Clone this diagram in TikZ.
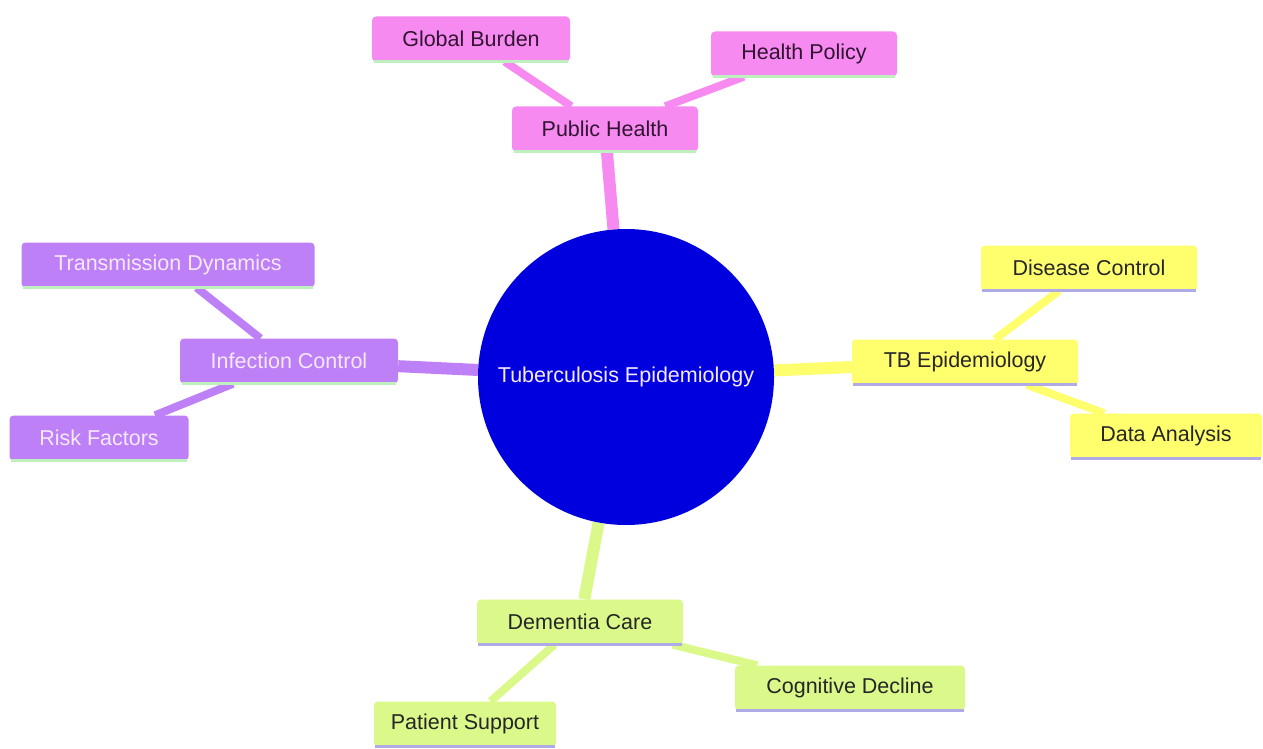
\documentclass[tikz,border=0pt]{standalone}
\usepackage{fontspec}
\setmainfont{Liberation Sans}
\usetikzlibrary{backgrounds}
\definecolor{pinkN}{RGB}{246,138,240}
\definecolor{purpN}{RGB}{190,128,246}
\definecolor{yellN}{RGB}{255,255,110}
\definecolor{greenN}{RGB}{218,249,138}
\definecolor{blueC}{RGB}{0,0,222}
\definecolor{lineG}{RGB}{190,240,190}
\definecolor{lineL}{RGB}{176,170,230}
\definecolor{pinkT}{RGB}{50,20,50}
\definecolor{purpT}{RGB}{245,232,255}
\tikzset{
  x=1pt, y=-1pt,
  mm/.style={rectangle, rounded corners=4pt, minimum height=45pt, inner sep=0pt, font=\fontsize{21.5}{24}\selectfont},
  pinkbox/.style={mm, fill=pinkN, text=pinkT},
  purpbox/.style={mm, fill=purpN, text=purpT},
  yellbox/.style={mm, fill=yellN, text=black!85},
  greenbox/.style={mm, fill=greenN, text=black!85},
  thickedge/.style={line width=12pt},
  thinedge/.style={line width=8pt},
  stripe/.style={line width=3pt}
}
\begin{document}
\begin{tikzpicture}
\useasboundingbox (0,0) rectangle (1263,749);
% center
\node[circle, fill=blueC, minimum size=296pt, inner sep=0pt, text=purpT, font=\fontsize{21.5}{24}\selectfont] (c) at (626,377) {Tuberculosis Epidemiology};
% pink
\node[pinkbox, minimum width=186pt] (ph) at (605,129) {Public Health};
\node[pinkbox, minimum width=198pt] (gb) at (471,39) {Global Burden};
\node[pinkbox, minimum width=186pt] (hp) at (804,54) {Health Policy};
% purple
\node[purpbox, minimum width=218pt] (ic) at (289,361) {Infection Control};
\node[purpbox, minimum width=293pt] (td) at (168,265) {Transmission Dynamics};
\node[purpbox, minimum width=179pt] (rf) at (99,438) {Risk Factors};
% yellow
\node[yellbox, minimum width=226pt] (tb) at (965,362) {TB Epidemiology};
\node[yellbox, minimum width=216pt] (dc) at (1089,268) {Disease Control};
\node[yellbox, minimum width=192pt] (da) at (1166,436) {Data Analysis};
% green
\node[greenbox, minimum width=206pt] (dm) at (580,622) {Dementia Care};
\node[greenbox, minimum width=230pt] (cd) at (850,688) {Cognitive Decline};
\node[greenbox, minimum width=182pt] (ps) at (465,724) {Patient Support};
% stripes
\foreach \n in {ph,gb,hp,ic,td,rf}
  \draw[stripe, lineG] ([xshift=2pt]\n.south west) -- ([xshift=-2pt]\n.south east);
\foreach \n in {tb,dc,da,dm,cd,ps}
  \draw[stripe, lineL] ([xshift=1pt]\n.south west) -- ([xshift=-1pt]\n.south east);
\begin{pgfonlayer}{background}
\draw[thickedge, pinkN] (c) -- (ph);
\draw[thinedge, pinkN] (ph) -- (gb);
\draw[thinedge, pinkN] (ph) -- (hp);
\draw[thickedge, purpN] (c) -- (ic);
\draw[thinedge, purpN] (ic) -- (td);
\draw[thinedge, purpN] (ic) -- (rf);
\draw[thickedge, yellN] (c) -- (tb);
\draw[thinedge, yellN] (tb) -- (dc);
\draw[thinedge, yellN] (tb) -- (da);
\draw[thickedge, greenN] (c) -- (dm);
\draw[thinedge, greenN] (dm) -- (cd);
\draw[thinedge, greenN] (dm) -- (ps);
\end{pgfonlayer}
\end{tikzpicture}
\end{document}
